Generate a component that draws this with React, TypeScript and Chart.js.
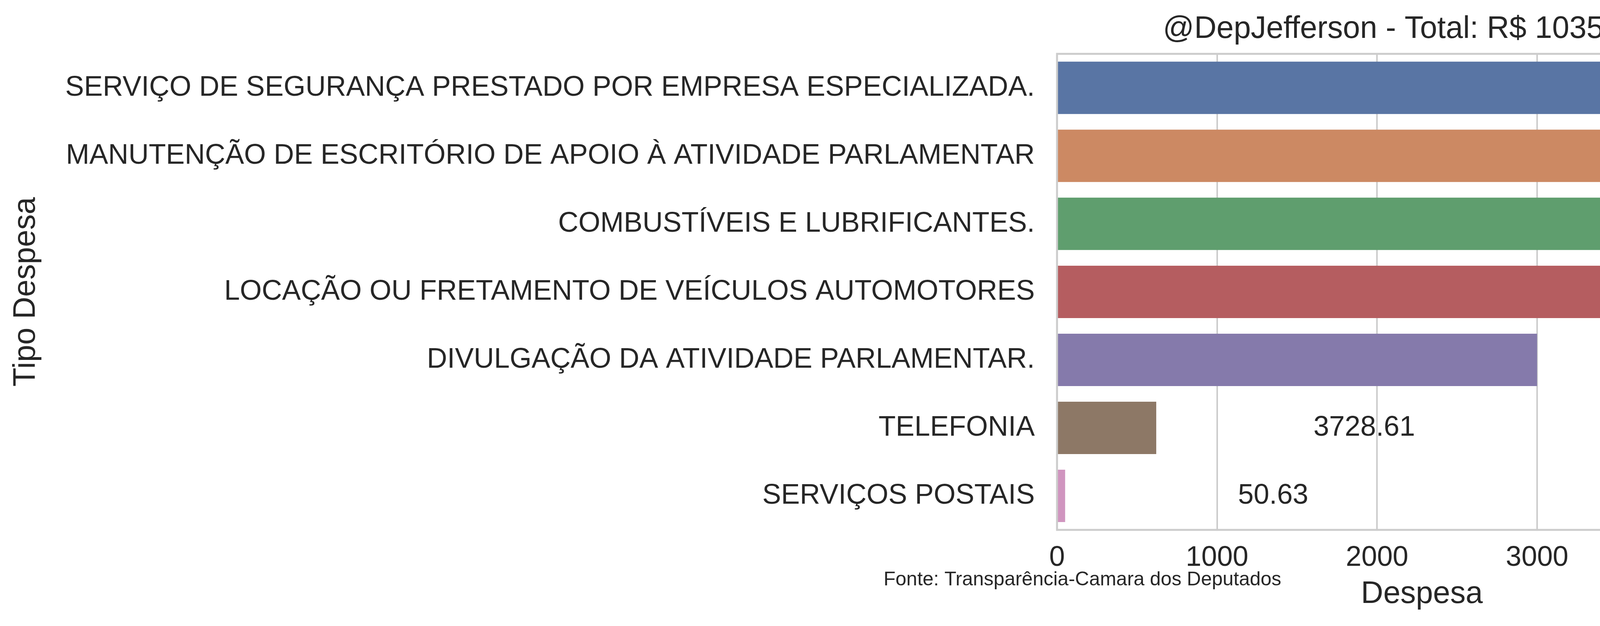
import { useEffect, useRef } from 'react';
import { Chart, registerables } from 'chart.js';

Chart.register(...registerables);

const FONT = '"Liberation Sans", Arial, sans-serif';
const TEXT = '#262626';

// Tipo de despesa, na ordem do gráfico
const categories = [
  'SERVIÇO DE SEGURANÇA PRESTADO POR EMPRESA ESPECIALIZADA.',
  'MANUTENÇÃO DE ESCRITÓRIO DE APOIO À ATIVIDADE PARLAMENTAR',
  'COMBUSTÍVEIS E LUBRIFICANTES.',
  'LOCAÇÃO OU FRETAMENTO DE VEÍCULOS AUTOMOTORES',
  'DIVULGAÇÃO DA ATIVIDADE PARLAMENTAR.',
  'TELEFONIA',
  'SERVIÇOS POSTAIS',
];
// comprimento das barras (média por tipo)
const meanValues = [4230, 4342, 4094, 3500, 3000, 620, 50.63];
// total por tipo (texto ao lado das barras)
const totalValues = [30444.57, 24596.98, 21189.0, 17500.0, 6000.0, 3728.61, 50.63];
const barColors = ['#5975a4', '#cc8963', '#5f9e6e', '#b55d60', '#857aab', '#8d7866', '#d095bf'];
const xTicks = [0, 1000, 2000, 3000, 4000];
const titleText = '@DepJefferson - Total: R$ 103509.79';
const sourceText = 'Fonte: Transparência-Camara dos Deputados';

const W = 5212;
const H = 1602;

const overlay = {
  id: 'overlay',
  afterDatasetsDraw(chart: any) {
    const { ctx, chartArea: a } = chart;
    const x = chart.scales.x;
    const y = chart.scales.y;
    ctx.save();
    // totals next to bars
    ctx.font = `72px ${FONT}`;
    ctx.fillStyle = TEXT;
    ctx.textAlign = 'center';
    ctx.textBaseline = 'middle';
    meanValues.forEach((v, i) => {
      ctx.fillText(totalValues[i].toFixed(2), x.getPixelForValue(v + 1300), y.getPixelForValue(i));
    });
    // axes frame
    ctx.strokeStyle = '#cccccc';
    ctx.lineWidth = 5;
    ctx.strokeRect(a.left, a.top, a.right - a.left, a.bottom - a.top);
    // source note
    ctx.font = `50px ${FONT}`;
    ctx.textAlign = 'left';
    ctx.textBaseline = 'alphabetic';
    ctx.fillText(sourceText, W * 0.434, H * 0.935);
    ctx.restore();
  },
};

export default function App() {
  const canvasRef = useRef<HTMLCanvasElement>(null);

  useEffect(() => {
    document.body.style.margin = '0';
    if (!canvasRef.current) return;
    Chart.defaults.font.family = FONT;
    Chart.defaults.color = TEXT;

    const chart = new Chart(canvasRef.current, {
      type: 'bar',
      data: {
        labels: categories,
        datasets: [
          {
            data: meanValues,
            backgroundColor: barColors,
            borderWidth: 0,
            barPercentage: 0.77,
            categoryPercentage: 1,
          },
        ],
      },
      plugins: [overlay],
      options: {
        indexAxis: 'y',
        responsive: false,
        animation: false,
        devicePixelRatio: 1,
        layout: { padding: { left: 0, right: 638, top: 0, bottom: 0 } },
        plugins: {
          legend: { display: false },
          tooltip: { enabled: false },
          title: {
            display: true,
            text: titleText,
            fullSize: false,
            color: TEXT,
            font: { size: 79, weight: 'normal' },
            padding: { top: 28, bottom: 15 },
          },
        },
        scales: {
          x: {
            min: 0,
            max: 4560,
            border: { display: false },
            grid: { color: '#cccccc', lineWidth: 4, drawTicks: false },
            ticks: {
              font: { size: 72 },
              color: TEXT,
              padding: 29,
              includeBounds: false,
              maxRotation: 0,
              callback: (v: any) => String(v),
            },
            afterBuildTicks: (s: any) => {
              s.ticks = xTicks.map((v) => ({ value: v }));
            },
            afterFit: (s: any) => {
              s.height = 246;
            },
            title: {
              display: true,
              text: 'Despesa',
              color: TEXT,
              font: { size: 79 },
              padding: { top: 0, bottom: 33 },
            },
          },
          y: {
            border: { display: false },
            grid: { display: false, drawTicks: false },
            ticks: { font: { size: 72 }, color: TEXT, padding: 57, autoSkip: false },
            afterFit: (s: any) => {
              s.width = 2706;
            },
            title: {
              display: true,
              text: 'Tipo Despesa',
              color: TEXT,
              font: { size: 79 },
              padding: { top: 20, bottom: 0 },
            },
          },
        },
      },
    });

    return () => {
      chart.destroy();
    };
  }, []);

  return (
    <div style={{ width: W, height: H, background: '#fff' }}>
      <canvas ref={canvasRef} width={W} height={H} style={{ width: W, height: H }} />
    </div>
  );
}
